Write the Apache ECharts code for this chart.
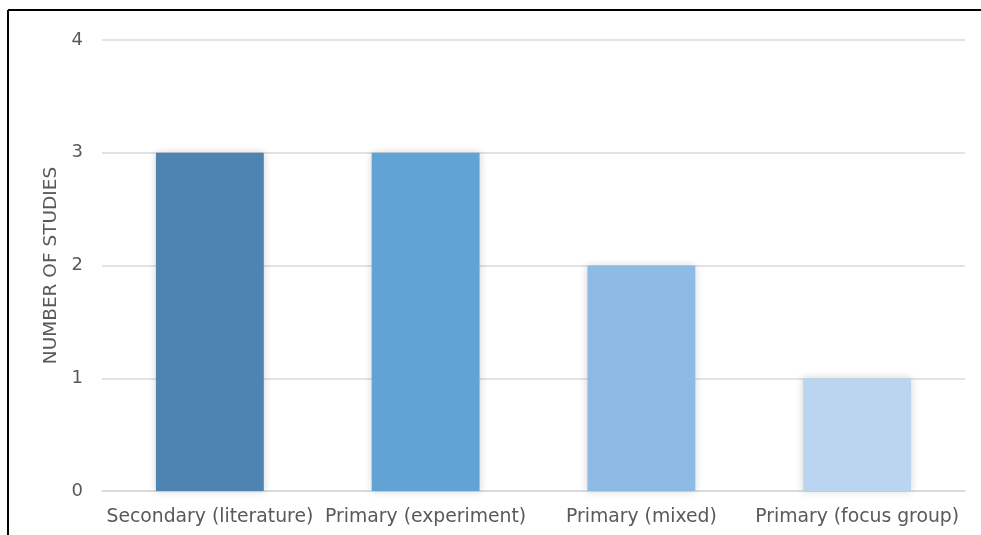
<!DOCTYPE html>
<html><head><meta charset="utf-8">
<script src="https://cdn.jsdelivr.net/npm/echarts@6/dist/echarts.min.js"></script>
<style>html,body{margin:0;padding:0;background:#fff}#c{width:981px;height:535px}</style>
</head><body><div id="c"></div>
<script>
const categories = ['Secondary (literature)', 'Primary (experiment)', 'Primary (mixed)', 'Primary (focus group)'];
const values = [3, 3, 2, 1];
const barColors = ['#4E84B2', '#62A3D6', '#8DBBE6', '#BBD5F0'];
const yTicks = [0, 1, 2, 3, 4];
const yAxisTitle = 'NUMBER OF STUDIES';

const chart = echarts.init(document.getElementById('c'));
chart.setOption({
  animation: false,
  backgroundColor: '#fff',
  textStyle: { fontFamily: 'DejaVu Sans' },
  grid: { left: 102, right: 16, top: 40, bottom: 44 },
  xAxis: {
    type: 'category', data: categories,
    axisLine: { show: true, lineStyle: { color: '#D9D9D9', width: 1.5 } },
    axisTick: { show: false },
    axisLabel: { color: '#595959', fontSize: 18.8, margin: 17, interval: 0, fontFamily: 'DejaVu Sans' }
  },
  yAxis: {
    type: 'value', min: yTicks[0], max: yTicks[yTicks.length - 1], interval: 1,
    name: yAxisTitle, nameLocation: 'middle', nameGap: 29, nameRotate: 90,
    nameTextStyle: { color: '#595959', fontSize: 18.5, fontFamily: 'DejaVu Sans' },
    axisLine: { show: false }, axisTick: { show: false },
    axisLabel: { color: '#595959', fontSize: 18, margin: 19, fontFamily: 'DejaVu Sans' },
    splitLine: { lineStyle: { color: '#D9D9D9', width: 1.5 } }
  },
  series: [{
    type: 'bar', barWidth: '50%',
    data: values.map((v, i) => ({ value: v, itemStyle: { color: barColors[i] } })),
    itemStyle: { shadowBlur: 8, shadowColor: 'rgba(0,0,0,0.18)' }
  }],
  graphic: [
    { type: 'line', shape: { x1: 8, y1: 10, x2: 981, y2: 10 }, style: { stroke: '#000', lineWidth: 2 } },
    { type: 'line', shape: { x1: 8, y1: 10, x2: 8, y2: 535 }, style: { stroke: '#000', lineWidth: 2 } }
  ]
});
</script></body></html>
